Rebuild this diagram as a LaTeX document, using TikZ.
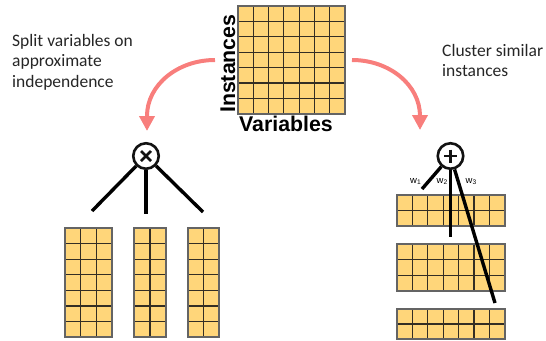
\documentclass[tikz,border=0pt]{standalone}
\usepackage{fontspec}
\setmainfont{Carlito}
\newfontfamily\arialfont{Liberation Sans}
\usetikzlibrary{arrows.meta}

\definecolor{cellfill}{RGB}{255,214,122}
\definecolor{cellline}{RGB}{52,46,36}
\definecolor{cellrim}{RGB}{100,100,100}
\definecolor{arrowpink}{RGB}{248,126,124}
\definecolor{ink}{RGB}{18,18,18}

% block of cells: left, top, columns, rows, cell width, cell height
\newcommand{\cellblock}[6]{%
  \fill[cellfill] (#1,#2) rectangle ++({#3*#5},{#4*#6});
  \foreach \cix in {1,...,#3}{%
    \draw[cell] ({#1+\cix*#5},#2) -- ++(0,{#4*#6});}
  \foreach \riy in {1,...,#4}{%
    \draw[cell] (#1,{#2+\riy*#6}) -- ++({#3*#5},0);}
  \draw[cellborder] (#1,#2) rectangle ++({#3*#5},{#4*#6});
}

\tikzset{
  cell/.style={draw=cellline, line width=1.1pt},
  cellborder/.style={draw=cellrim, line width=1.6pt},
  note/.style={font=\fontsize{17.5}{20.5}\selectfont, align=left, inner sep=0pt, anchor=north west, text=black!85},
  axislabel/.style={font=\arialfont\bfseries\fontsize{21.3}{24}\selectfont, inner sep=0pt, text=black},
  bendarrow/.style={draw=arrowpink, line width=4pt, -{Triangle[width=15pt,length=15pt]}},
  opnode/.style={circle, draw=ink, line width=2.6pt, minimum size=25.5pt, inner sep=0pt, fill=white},
  opmark/.style={draw=ink, line width=2.6pt},
  edge/.style={draw=black, line width=3.4pt},
  wlabel/.style={font=\arialfont\fontsize{9.5}{11}\selectfont, inner sep=0pt, anchor=base west}
}

\begin{document}
\begin{tikzpicture}[x=1pt, y=-1pt]
\useasboundingbox (0,0) rectangle (546,340);

% data matrix: instances x variables
\cellblock{238}{6}{7}{7}{15.3}{15.4}
\node[axislabel, rotate=90, anchor=base west] (inst) at (235,113) {Instances};
\node[axislabel, anchor=base west] (vars) at (239,131) {Variables};

% captions
\node[note] (split) at (12,34) {Split variables on\\approximate\\independence};
\node[note] (cluster) at (442,44) {Cluster similar\\instances};

% curved arrows
\coordinate (lstart) at (215,60);
\coordinate (ltip) at (147,131);
\draw[bendarrow] (lstart) .. controls (177.5,60) and (147,85) .. (147,116) -- (ltip);
\coordinate (rstart) at (352,60);
\coordinate (rtip) at (420,130);
\draw[bendarrow] (rstart) .. controls (389.5,60) and (420,85) .. (420,116) -- (rtip);

% product split: column blocks
\cellblock{65}{228}{3}{7}{15.7}{15.6}
\cellblock{134}{228}{2}{7}{16}{15.6}
\cellblock{188}{228}{2}{7}{15.6}{15.6}

% sum split: row blocks
\cellblock{397}{195}{7}{2}{15.4}{15.5}
\cellblock{397}{244}{7}{3}{15.4}{15.6}
\cellblock{397}{309}{7}{2}{15.4}{15}

% product node
\node[opnode] (times) at (146,156) {};
\draw[opmark] (times.center) ++(-5,-5) -- ++(10,10);
\draw[opmark] (times.center) ++(-5,5) -- ++(10,-10);
\coordinate (ta) at (92,211);
\coordinate (tb) at (146,214);
\coordinate (tc) at (203,212);
\draw[edge] (times) -- (ta);
\draw[edge] (times) -- (tb);
\draw[edge] (times) -- (tc);

% sum node
\node[opnode] (plus) at (450.5,156) {};
\draw[opmark] (plus.center) ++(-6.5,0) -- ++(13,0);
\draw[opmark] (plus.center) ++(0,-6.5) -- ++(0,13);
\coordinate (pa) at (422,189);
\coordinate (pb) at (450.5,237);
\coordinate (pc) at (495,303);
\draw[edge] (plus) -- (pa);
\draw[edge] (plus) -- (pb);
\draw[edge] (plus) -- (pc);

% mixture weights
\node[wlabel] (w1) at (410,183) {w\textsubscript{1}};
\node[wlabel] (w2) at (436.5,183) {w\textsubscript{2}};
\node[wlabel] (w3) at (465.5,183) {w\textsubscript{3}};
\end{tikzpicture}
\end{document}
